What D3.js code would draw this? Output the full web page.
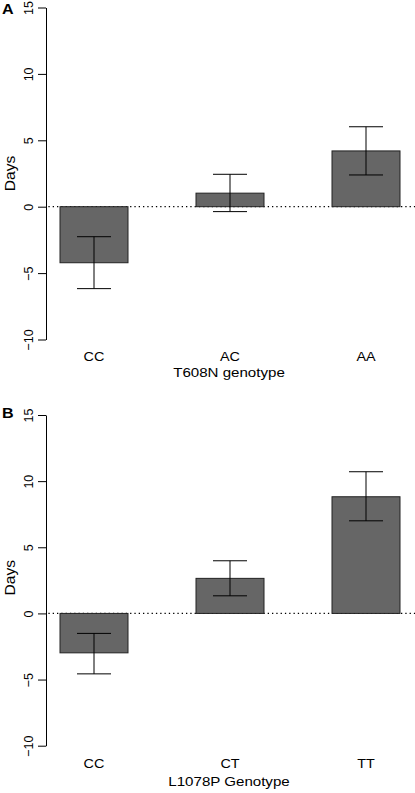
<!DOCTYPE html>
<html><head><meta charset="utf-8">
<script src="https://cdn.jsdelivr.net/npm/d3@7"></script>
<style>
body{margin:0;background:#fff}
svg{display:block;background:#fff}
text{font-family:"Liberation Sans",Arial,Helvetica,sans-serif;fill:#000}
</style>
</head><body>
<svg id="chart" width="415" height="793"></svg>
<script>
// ---- data ----
const categoriesA = ["CC", "AC", "AA"];
const meansA = [-4.22, 1.02, 4.2];
const lowerA = [-6.17, -0.37, 2.39];
const upperA = [-2.26, 2.44, 6.02];

const categoriesB = ["CC", "CT", "TT"];
const meansB = [-2.98, 2.65, 8.82];
const lowerB = [-4.57, 1.33, 7.0];
const upperB = [-1.51, 3.98, 10.71];

const yTicks = [-10, -5, 0, 5, 10, 15];
const xTitleA = "T608N genotype";
const xTitleB = "L1078P Genotype";
const yLabel = "Days";
const panelLetters = ["A", "B"];

// ---- layout ----
const svg = d3.select("#chart");
const panels = [
  {letter: panelLetters[0], cats: categoriesA, means: meansA, lo: lowerA, hi: upperA, title: xTitleA,
   yRange: [339.5, 7.5], letterY: 14, catY: 361, titleY: 377, daysVal: 2.5},
  {letter: panelLetters[1], cats: categoriesB, means: meansB, lo: lowerB, hi: upperB, title: xTitleB,
   yRange: [745.7, 415], letterY: 418, catY: 768, titleY: 786, daysVal: 2.7}
];

const axisX = 46;

panels.forEach(p => {
  const g = svg.append("g");
  const x = d3.scaleBand().domain(p.cats).range([46.4, 413.6]).paddingInner(0.5).paddingOuter(0.1);
  const y = d3.scaleLinear().domain([-10, 15]).range(p.yRange);

  // zero reference line (dotted)
  g.append("line")
    .attr("x1", x.range()[0] + 2).attr("x2", 415)
    .attr("y1", y(0)).attr("y2", y(0))
    .attr("stroke", "#000").attr("stroke-width", 1.2)
    .attr("stroke-dasharray", "1.3,3");

  // bars
  const data = p.cats.map((c, i) => ({c, m: p.means[i], lo: p.lo[i], hi: p.hi[i]}));
  g.selectAll("rect.bar").data(data).join("rect")
    .attr("class", "bar")
    .attr("x", d => x(d.c))
    .attr("width", x.bandwidth())
    .attr("y", d => y(Math.max(0, d.m)))
    .attr("height", d => Math.abs(y(d.m) - y(0)))
    .attr("fill", "#666666")
    .attr("stroke", "#222").attr("stroke-width", 1);

  // error bars
  const cap = x.bandwidth() / 2;
  const eb = g.selectAll("g.eb").data(data).join("g").attr("class", "eb");
  eb.append("line")
    .attr("x1", d => x(d.c) + x.bandwidth() / 2).attr("x2", d => x(d.c) + x.bandwidth() / 2)
    .attr("y1", d => y(d.lo)).attr("y2", d => y(d.hi))
    .attr("stroke", "#000").attr("stroke-width", 1);
  ["lo", "hi"].forEach(k => {
    eb.append("line")
      .attr("x1", d => x(d.c) + x.bandwidth() / 2 - cap / 2)
      .attr("x2", d => x(d.c) + x.bandwidth() / 2 + cap / 2)
      .attr("y1", d => y(d[k])).attr("y2", d => y(d[k]))
      .attr("stroke", "#000").attr("stroke-width", 1);
  });

  // y axis
  const ax = g.append("g").attr("transform", `translate(${axisX},0)`)
    .call(d3.axisLeft(y).tickValues(yTicks).tickSize(8).tickSizeOuter(0));
  ax.select(".domain").attr("stroke", "#000");
  ax.selectAll(".tick line").attr("stroke", "#000");
  ax.selectAll(".tick text")
    .attr("x", null).attr("dy", null)
    .attr("transform", "translate(-13,0) rotate(-90) scale(1,1.05)")
    .attr("text-anchor", "middle")
    .attr("font-size", 12.5)
    .attr("font-family", null);

  // category labels
  g.selectAll("text.cat").data(p.cats).join("text")
    .attr("class", "cat")
    .attr("transform", d => `translate(${x(d) + x.bandwidth() / 2},${p.catY}) scale(1.2,1)`)
    .attr("text-anchor", "middle")
    .attr("font-size", 12)
    .text(d => d);

  // x title
  const cx = (x.range()[0] + x.range()[1]) / 2;
  g.append("text")
    .attr("transform", `translate(${cx - 1},${p.titleY}) scale(1.26,1)`)
    .attr("text-anchor", "middle")
    .attr("font-size", 12)
    .text(p.title);

  // y label
  g.append("text")
    .attr("transform", `translate(14.5,${y(p.daysVal)}) rotate(-90) scale(1.12,1)`)
    .attr("text-anchor", "middle")
    .attr("font-size", 14)
    .text(yLabel);

  // panel letter
  g.append("text")
    .attr("transform", `translate(2,${p.letterY}) scale(1.15,1)`)
    .attr("font-size", 14)
    .attr("font-weight", "bold")
    .text(p.letter);
});
</script>
</body></html>
